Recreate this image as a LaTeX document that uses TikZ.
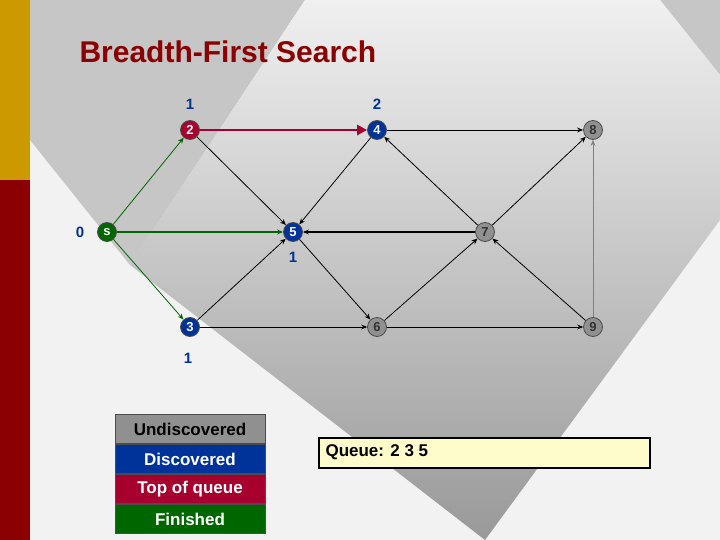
\documentclass[tikz,border=0pt]{standalone}
\usepackage{fontspec}
\setmainfont{Liberation Sans}
\usetikzlibrary{arrows.meta}
\definecolor{nblue}{HTML}{003399}
\definecolor{nred}{HTML}{A8002E}
\definecolor{ngreen}{HTML}{006600}
\definecolor{ngray}{HTML}{909090}
\definecolor{dred}{HTML}{8B0000}
\definecolor{gold}{HTML}{CC9900}
\tikzset{
 vtx/.style={circle,draw=black!70,line width=0.8pt,minimum size=19pt,inner sep=0pt,text=white,font=\bfseries\fontsize{13}{13}\selectfont},
 und/.style={vtx,fill=ngray,text=black!80},
 dis/.style={vtx,fill=nblue},
 top/.style={vtx,fill=nred},
 fin/.style={vtx,fill=ngreen},
 edge/.style={-{Stealth[length=6pt,width=5pt]},line width=0.8pt,black},
 gedge/.style={edge,ngreen},
 lbl/.style={text=nblue,font=\bfseries\fontsize{15}{15}\selectfont},
 leg/.style={draw=black!70,line width=1pt,minimum width=150pt,minimum height=29pt,inner sep=0pt,font=\bfseries\fontsize{17}{17}\selectfont}
}
\begin{document}
\begin{tikzpicture}[x=1pt,y=-1pt]
\useasboundingbox (0,0) rectangle (720,540);
\fill[black!5] (0,0) rectangle (720,540);
\fill[gray!45] (30,0) -- (305,0) -- (130,265) -- (30,140) -- cycle;
\fill[gray!45] (660,0) -- (720,0) -- (720,75) -- cycle;
\shade[top color=black!6,bottom color=black!40] (305,0) -- (660,0) -- (720,75) -- (720,220) -- (485,540) -- (130,265) -- cycle;
\fill[gold] (0,0) rectangle (30,180);
\fill[dred] (0,180) rectangle (30,540);
\node[anchor=west,text=dred,font=\bfseries\fontsize{30}{30}\selectfont] (title) at (76,52) {Breadth-First Search};
\node[fin] (s) at (107,232) {s};
\node[top] (n2) at (190,130) {2};
\node[dis] (n4) at (377,130) {4};
\node[und] (n8) at (593,130) {8};
\node[dis] (n5) at (293,232) {5};
\node[und] (n7) at (485,232) {7};
\node[dis] (n3) at (190,327) {3};
\node[und] (n6) at (377,327) {6};
\node[und] (n9) at (593,327) {9};
\draw[gedge] (s) -- (n2);
\draw[gedge,line width=1.2pt] (s) -- (n5);
\draw[gedge] (s) -- (n3);
\draw[edge,nred,line width=2.5pt,-{Triangle[length=10pt,width=10pt]}] (n2) -- (n4);
\draw[edge] (n4) -- (n8);
\draw[edge] (n2) -- (n5);
\draw[edge] (n4) -- (n5);
\draw[edge,line width=1.3pt] (n7) -- (n5);
\draw[edge] (n7) -- (n4);
\draw[edge] (n7) -- (n8);
\draw[edge] (n3) -- (n5);
\draw[edge] (n5) -- (n6);
\draw[edge] (n3) -- (n6);
\draw[edge] (n6) -- (n7);
\draw[edge] (n9) -- (n7);
\draw[edge] (n6) -- (n9);
\draw[edge,gray] (n9) -- (n8);
\node[lbl] (l2) at (190,104) {1};
\node[lbl] (l4) at (377,104) {2};
\node[lbl] (ls) at (80,232) {0};
\node[lbl] (l5) at (293,257) {1};
\node[lbl] (l3) at (188,358) {1};
\node[leg,fill=ngray,text=black] (u) at (190,429) {Undiscovered};
\node[leg,fill=nblue,text=white] (d) at (190,459) {Discovered};
\node[leg,fill=nred,text=white] (t) at (190,489) {Top of queue};
\node[leg,fill=ngreen,text=white] (f) at (190,519) {Finished};
\draw[black,line width=1.2pt,fill=yellow!20] (319,438) rectangle (650,468);
\node[anchor=west,font=\bfseries\fontsize{17}{17}\selectfont] (q) at (322,452) {Queue: 2 3 5};
\end{tikzpicture}
\end{document}
